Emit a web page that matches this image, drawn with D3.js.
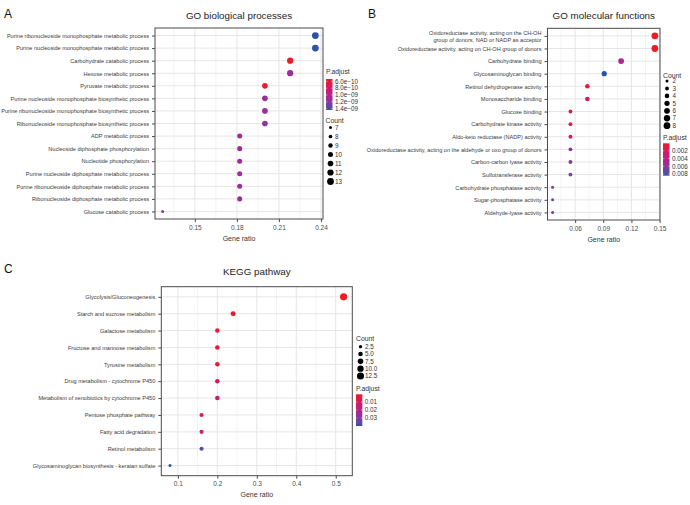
<!DOCTYPE html>
<html><head><meta charset="utf-8">
<script src="https://cdn.jsdelivr.net/npm/d3@7"></script>
<style>
body{margin:0;background:#fff;}
svg{display:block;font-family:"Liberation Sans",Arial,Helvetica,sans-serif;}
</style>
</head><body>
<svg id="c" width="690" height="505"></svg>
<script>
// ---------------- DATA ----------------
const bpTerms = [
"Purine ribonucleoside monophosphate metabolic process",
"Purine nucleoside monophosphate metabolic process",
"Carbohydrate catabolic process",
"Hexose metabolic process",
"Pyruvate metabolic process",
"Purine nucleoside monophosphate biosynthetic process",
"Purine ribonucleoside monophosphate biosynthetic process",
"Ribonucleoside monophosphate biosynthetic process",
"ADP metabolic process",
"Nucleoside diphosphate phosphorylation",
"Nucleotide phosphorylation",
"Purine nucleoside diphosphate metabolic process",
"Purine ribonucleoside diphosphate metabolic process",
"Ribonucleoside diphosphate metabolic process",
"Glucose catabolic process"];
const bpRatio = [0.236,0.236,0.218,0.218,0.2,0.2,0.2,0.2,0.182,0.182,0.182,0.182,0.182,0.182,0.127];
const bpCount = [13,13,12,12,11,11,11,11,10,10,10,10,10,10,7];
const bpPadj  = [1.44e-9,1.43e-9,5.3e-10,1.1e-9,5.6e-10,1.12e-9,1.12e-9,1.2e-9,1.1e-9,1.1e-9,1.1e-9,1.1e-9,1.1e-9,1.1e-9,1.15e-9];
const bpXTicks = [0.15,0.18,0.21,0.24];
const bpXLabels = ["0.15","0.18","0.21","0.24"];
const bpCountTicks = [7,8,9,10,11,12,13];
const bpPadjTicks = [6e-10,8e-10,1e-9,1.2e-9,1.4e-9];
const bpPadjLabels = ["6.0e\u221210","8.0e\u221210","1.0e\u221209","1.2e\u221209","1.4e\u221209"];

const mfTerms = [
"Oxidoreductase activity, acting on the CH-OH\ngroup of donors, NAD or NADP as acceptor",
"Oxidoreductase activity, acting on CH-OH group of donors",
"Carbohydrate binding",
"Glycosaminoglycan binding",
"Retinol dehydrogenase activity",
"Monosaccharide binding",
"Glucose binding",
"Carbohydrate kinase activity",
"Aldo-keto reductase (NADP) activity",
"Oxidoreductase activity, acting on the aldehyde or oxo group of donors",
"Carbon-carbon lyase activity",
"Sulfotransferase activity",
"Carbohydrate phosphatase activity",
"Sugar-phosphatase activity",
"Aldehyde-lyase activity"];
const mfRatio = [0.145,0.145,0.109,0.091,0.073,0.073,0.055,0.055,0.055,0.055,0.055,0.055,0.036,0.036,0.036];
const mfCount = [8,8,6,5,4,4,3,3,3,3,3,3,2,2,2];
const mfPadj  = [0.0001,0.0002,0.0045,0.0084,0.0008,0.0022,0.0010,0.0014,0.0018,0.0062,0.0068,0.0068,0.0066,0.0066,0.0066];
const mfXTicks = [0.06,0.09,0.12,0.15];
const mfXLabels = ["0.06","0.09","0.12","0.15"];
const mfCountTicks = [2,3,4,5,6,7,8];
const mfPadjTicks = [0.002,0.004,0.006,0.008];
const mfPadjLabels = ["0.002","0.004","0.006","0.008"];

const keggTerms = [
"Glycolysis/Gluconeogenesis",
"Starch and sucrose metabolism",
"Galactose metabolism",
"Fructose and mannose metabolism",
"Tyrosine metabolism",
"Drug metabolism - cytochrome P450",
"Metabolism of xenobiotics by cytochrome P450",
"Pentose phosphate pathway",
"Fatty acid degradation",
"Retinol metabolism",
"Glycosaminoglycan biosynthesis - keratan sulfate"];
const keggRatio = [0.52,0.24,0.2,0.2,0.2,0.2,0.2,0.16,0.16,0.16,0.08];
const keggCount = [13,6,5,5,5,5,5,4,4,4,2];
const keggPadj  = [0.0004,0.003,0.004,0.004,0.004,0.012,0.013,0.005,0.013,0.037,0.040];
const keggXTicks = [0.1,0.2,0.3,0.4,0.5];
const keggXLabels = ["0.1","0.2","0.3","0.4","0.5"];
const keggCountTicks = [2.5,5,7.5,10,12.5];
const keggCountLabels = ["2.5","5.0","7.5","10.0","12.5"];
const keggPadjTicks = [0.01,0.02,0.03];
const keggPadjLabels = ["0.01","0.02","0.03"];

// gradient colour stops (low p.adjust -> high p.adjust)
const gradStops = [0, 0.3, 0.55, 0.75, 1];
const gradColors = ["#ed1c24", "#d4176a", "#ac2490", "#86379e", "#2c52a6"];

// ---------------- DRAWING ----------------
const svg = d3.select("#c");
const GRID = "#e6e6e6", BORDER = "#4a4a4a", AXTXT = "#4d4d4d";
const ramp = d3.scaleLinear().domain(gradStops).range(gradColors).interpolate(d3.interpolateLab);

function panel(o){
  const g = svg.append("g");
  const [xmin,xmax] = d3.extent(o.ratio);
  const pad = (xmax-xmin)*0.05;
  const x = d3.scaleLinear().domain([xmin-pad, xmax+pad]).range([o.x0,o.x1]);
  const y = d3.scalePoint().domain(o.terms).range([o.y0,o.y1]).padding(0.6);
  const r = d3.scaleSqrt().domain(d3.extent(o.count)).range([0,1]);
  const rad = v => o.rmin + (o.rmax-o.rmin)*r(v);
  const norm = d3.scaleLinear().domain(d3.extent(o.padj)).range([0,1]);
  const col = v => ramp(norm(v));

  const step = o.xTicks[1]-o.xTicks[0];
  const minors = [];
  for (let i=-1;i<o.xTicks.length;i++){
    const v = o.xTicks[0] + step*(i+0.5);
    if (v>x.domain()[0] && v<x.domain()[1]) minors.push(v);
  }
  g.selectAll(".mn").data(minors).join("line")
    .attr("x1",d=>x(d)).attr("x2",d=>x(d)).attr("y1",o.y0).attr("y2",o.y1)
    .attr("stroke",GRID).attr("stroke-width",0.5);
  g.selectAll(".mj").data(o.xTicks).join("line")
    .attr("x1",d=>x(d)).attr("x2",d=>x(d)).attr("y1",o.y0).attr("y2",o.y1)
    .attr("stroke",GRID).attr("stroke-width",1);
  g.selectAll(".hy").data(o.terms).join("line")
    .attr("x1",o.x0).attr("x2",o.x1).attr("y1",d=>y(d)).attr("y2",d=>y(d))
    .attr("stroke",GRID).attr("stroke-width",1);

  const data = o.terms.map((t,i)=>({t, ratio:o.ratio[i], count:o.count[i], p:o.padj[i]}));
  g.selectAll(".pt").data(data).join("circle")
    .attr("cx",d=>x(d.ratio)).attr("cy",d=>y(d.t)).attr("r",d=>rad(d.count))
    .attr("fill",d=>col(d.p));

  g.append("rect").attr("x",o.x0).attr("y",o.y0).attr("width",o.x1-o.x0).attr("height",o.y1-o.y0)
    .attr("fill","none").attr("stroke",BORDER).attr("stroke-width",1);

  const xa = g.append("g").attr("transform",`translate(0,${o.y1})`)
    .call(d3.axisBottom(x).tickValues(o.xTicks).tickSize(3).tickPadding(3)
      .tickFormat((d,i)=>o.xLabels[i]));
  xa.select(".domain").remove();
  xa.selectAll("line").attr("stroke",BORDER);
  xa.selectAll("text").attr("font-size",6.5).attr("fill",AXTXT).attr("font-family",null);

  const ya = g.append("g").attr("transform",`translate(${o.x0},0)`)
    .call(d3.axisLeft(y).tickSize(3).tickPadding(3));
  ya.select(".domain").remove();
  ya.selectAll("line").attr("stroke",BORDER);
  ya.selectAll("text").attr("font-size",o.yFont).attr("fill","#3a3a3a").attr("font-family",null)
    .each(function(d){
      const lines = d.split("\n");
      if (lines.length>1){
        const t = d3.select(this); t.text(null);
        lines.forEach((ln,k)=>{
          t.append("tspan").attr("x",-6).attr("dy", k===0 ? (-(lines.length-1)*0.6+0.32)+"em" : "1.2em").text(ln);
        });
        t.attr("dy",null);
      }
    });

  g.append("text").attr("x",(o.x0+o.x1)/2).attr("y",o.y1+21.5).attr("text-anchor","middle")
    .attr("font-size",7).attr("fill","#333").text("Gene ratio");
  g.append("text").attr("x",(o.x0+o.x1)/2).attr("y",o.titleY).attr("text-anchor","middle")
    .attr("font-size",9.8).attr("fill","#222").text(o.title);
  g.append("text").attr("x",o.letterX).attr("y",o.letterY).attr("font-size",12).attr("fill","#111").text(o.letter);

  const L = o.colLeg;
  g.append("text").attr("x",L.x).attr("y",L.titleY).attr("font-size",6.8).attr("fill","#333").text("P.adjust");
  const gid = "grad"+o.letter;
  const grad = svg.append("defs").append("linearGradient").attr("id",gid)
    .attr("x1",0).attr("x2",0).attr("y1",0).attr("y2",1);
  d3.range(0,1.0001,0.05).forEach(t=>{
    grad.append("stop").attr("offset",t).attr("stop-color",ramp(t));
  });
  const cb = d3.scaleLinear().domain(norm.domain()).range([L.y, L.y+L.h]);
  g.append("rect").attr("x",L.x).attr("y",L.y).attr("width",L.w).attr("height",L.h).attr("fill",`url(#${gid})`);
  o.padjTicks.forEach((v,i)=>{
    g.append("line").attr("x1",L.x).attr("x2",L.x+1.3).attr("y1",cb(v)).attr("y2",cb(v)).attr("stroke","#fff").attr("stroke-width",0.5);
    g.append("line").attr("x1",L.x+L.w-1.3).attr("x2",L.x+L.w).attr("y1",cb(v)).attr("y2",cb(v)).attr("stroke","#fff").attr("stroke-width",0.5);
    g.append("text").attr("x",L.x+L.w+2.5).attr("y",cb(v)).attr("dy","0.35em").attr("font-size",6.3).attr("fill","#333").text(o.padjLabels[i]);
  });

  const S = o.sizeLeg;
  g.append("text").attr("x",S.x).attr("y",S.titleY).attr("font-size",6.8).attr("fill","#333").text("Count");
  o.countTicks.forEach((v,i)=>{
    const cy = S.y + i*S.step;
    g.append("circle").attr("cx",S.cx).attr("cy",cy).attr("r",rad(v)).attr("fill","#000");
    g.append("text").attr("x",S.lx).attr("y",cy).attr("dy","0.35em").attr("font-size",6.3).attr("fill","#333")
      .text(o.countLabels ? o.countLabels[i] : String(v));
  });
}

panel({terms:bpTerms, ratio:bpRatio, count:bpCount, padj:bpPadj,
  x0:155, x1:323, y0:28, y1:219, rmin:1.5, rmax:3.4, yFont:5.6,
  xTicks:bpXTicks, xLabels:bpXLabels, title:"GO biological processes", titleY:18.5,
  letter:"A", letterX:4, letterY:17.5,
  colLeg:{x:326, titleY:73.5, y:79, h:31, w:6.5},
  padjTicks:bpPadjTicks, padjLabels:bpPadjLabels,
  sizeLeg:{x:325.5, titleY:123, y:127.5, step:9, cx:330.5, lx:335},
  countTicks:bpCountTicks});

panel({terms:mfTerms, ratio:mfRatio, count:mfCount, padj:mfPadj,
  x0:547.5, x1:660, y0:28.3, y1:220, rmin:1.5, rmax:3.4, yFont:5.6,
  xTicks:mfXTicks, xLabels:mfXLabels, title:"GO molecular functions", titleY:18.5,
  letter:"B", letterX:368, letterY:17.5,
  colLeg:{x:663, titleY:139.5, y:143.3, h:32.4, w:6.5},
  padjTicks:mfPadjTicks, padjLabels:mfPadjLabels,
  sizeLeg:{x:663, titleY:77.5, y:81, step:7.45, cx:667, lx:672.5},
  countTicks:mfCountTicks});

panel({terms:keggTerms, ratio:keggRatio, count:keggCount, padj:keggPadj,
  x0:161.3, x1:352.3, y0:286.7, y1:475.7, rmin:1.5, rmax:3.6, yFont:5.6,
  xTicks:keggXTicks, xLabels:keggXLabels, title:"KEGG pathway", titleY:274.5,
  letter:"C", letterX:4, letterY:273,
  colLeg:{x:356, titleY:390.5, y:394.3, h:31.7, w:6.3},
  padjTicks:keggPadjTicks, padjLabels:keggPadjLabels,
  sizeLeg:{x:356, titleY:340.5, y:346.7, step:7.33, cx:360.5, lx:365},
  countTicks:keggCountTicks, countLabels:keggCountLabels});
</script>
</body></html>
